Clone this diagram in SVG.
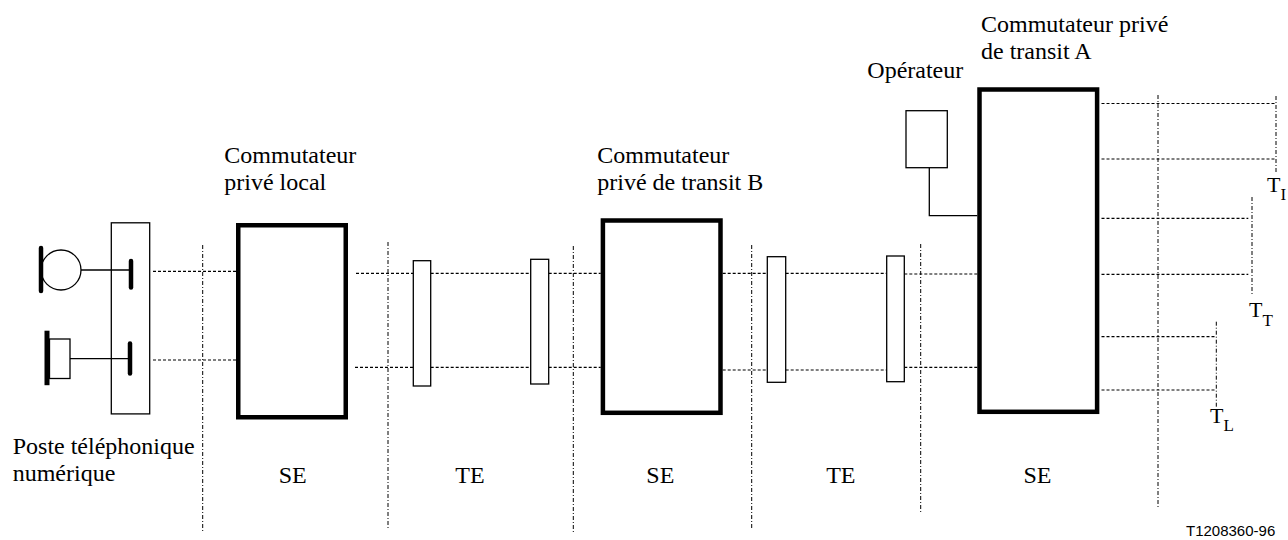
<svg xmlns="http://www.w3.org/2000/svg" width="1288" height="540" viewBox="0 0 1288 540">
<style>
.sw{fill:#fff;stroke:#000;stroke-width:4.5}
.thin{fill:#fff;stroke:#000;stroke-width:1.3}
.ln{fill:none;stroke:#000;stroke-width:1.3}
.dash{fill:none;stroke:#000;stroke-width:1.2;stroke-dasharray:3 2}
.sep{fill:none;stroke:#000;stroke-width:1;stroke-dasharray:4 2 1 2}
.bar{stroke:#000;stroke-width:4.5;stroke-linecap:round}
.t{font-family:"Liberation Serif","Times New Roman",serif;font-size:24px;fill:#000}
.c{text-anchor:middle}
.tt{font-family:"Liberation Serif","Times New Roman",serif;font-size:22px;fill:#000}
.code{font-family:"Liberation Sans",Arial,sans-serif;font-size:15px;fill:#000}
</style>
<rect width="1288" height="540" fill="#fff"/>

<g id="separators">
<line class="sep" x1="202.7" y1="245" x2="202.7" y2="532"/>
<line class="sep" x1="388" y1="242" x2="388" y2="528"/>
<line class="sep" x1="573.3" y1="246" x2="573.3" y2="533"/>
<line class="sep" x1="751.7" y1="245" x2="751.7" y2="528"/>
<line class="sep" x1="920.7" y1="244" x2="920.7" y2="514"/>
<line class="sep" x1="1158" y1="95" x2="1158" y2="508"/>
</g>

<g id="connectors">
<line class="dash" x1="153" y1="271.3" x2="236" y2="271.3"/>
<line class="dash" x1="153" y1="360" x2="236" y2="360"/>
<line class="dash" x1="356" y1="273.3" x2="413.3" y2="273.3"/>
<line class="dash" x1="355" y1="367.3" x2="413.3" y2="367.3"/>
<line class="dash" x1="430.7" y1="273.3" x2="530.7" y2="273.3"/>
<line class="dash" x1="430.7" y1="367.3" x2="530.7" y2="367.3"/>
<line class="dash" x1="548.7" y1="273.3" x2="600.7" y2="273.3"/>
<line class="dash" x1="548.7" y1="367.3" x2="600.7" y2="367.3"/>
<line class="dash" x1="722.7" y1="273.3" x2="767.3" y2="273.3"/>
<line class="dash" x1="722.7" y1="370" x2="767.3" y2="370"/>
<line class="dash" x1="785.7" y1="273.3" x2="886.7" y2="273.3"/>
<line class="dash" x1="785.7" y1="370" x2="886.7" y2="370"/>
<line class="dash" x1="904.3" y1="274" x2="977.3" y2="274"/>
<line class="dash" x1="904.3" y1="367.3" x2="977.3" y2="367.3"/>
<line class="dash" x1="1101.5" y1="103.5" x2="1275.7" y2="103.5"/>
<line class="dash" x1="1101.5" y1="159" x2="1275.7" y2="159"/>
<line class="dash" x1="1101.5" y1="218.3" x2="1248.3" y2="218.3"/>
<line class="dash" x1="1101.5" y1="274.3" x2="1248.3" y2="274.3"/>
<line class="dash" x1="1101.5" y1="336.7" x2="1215" y2="336.7"/>
<line class="dash" x1="1101.5" y1="390" x2="1215" y2="390"/>
<polyline class="ln" points="929.3,167.7 929.3,215.7 977.3,215.7"/>
</g>

<g id="phone">
<rect class="thin" x="111.3" y="222.8" width="38.4" height="191.1"/>
<line class="ln" x1="81" y1="270" x2="131" y2="270"/>
<circle class="thin" cx="61" cy="270" r="20"/>
<line class="bar" x1="41" y1="248" x2="41" y2="291"/>
<line class="bar" x1="131" y1="261" x2="131" y2="287.5"/>
<rect x="44.5" y="330.7" width="5" height="54.5" fill="#000"/>
<rect class="thin" x="49.5" y="339" width="20.5" height="39.5"/>
<line class="ln" x1="70" y1="358.7" x2="130" y2="358.7"/>
<line class="bar" x1="130" y1="343.5" x2="130" y2="373.5"/>
<text class="t" x="12.7" y="454.3">Poste téléphonique</text>
<text class="t" x="12.7" y="481">numérique</text>
</g>

<g id="local-switch">
<rect class="sw" x="238.25" y="225.25" width="107.5" height="192"/>
<text class="t" x="224.3" y="162.5">Commutateur</text>
<text class="t" x="224.3" y="189.5">privé local</text>
<text class="t c" x="292.7" y="483.3">SE</text>
</g>

<g id="te1"><rect class="thin" x="413.3" y="260.7" width="17.4" height="125.3"/></g>
<g id="te2"><rect class="thin" x="530.7" y="259.3" width="18" height="124.7"/></g>
<g id="te-label-1"><text class="t c" x="470" y="483.3">TE</text></g>

<g id="switch-b">
<rect class="sw" x="602.9" y="220.5" width="117.6" height="192.3"/>
<text class="t" x="597.3" y="162.5">Commutateur</text>
<text class="t" x="597.3" y="189.5">privé de transit B</text>
<text class="t c" x="660.3" y="483.3">SE</text>
</g>

<g id="te3"><rect class="thin" x="767.3" y="256.7" width="18.4" height="125.6"/></g>
<g id="te4"><rect class="thin" x="886.7" y="256" width="17.6" height="125.7"/></g>
<g id="te-label-2"><text class="t c" x="840.8" y="483.3">TE</text></g>

<g id="operator">
<rect class="thin" x="906" y="110.7" width="41.3" height="57"/>
<text class="t" x="867.3" y="78">Opérateur</text>
</g>

<g id="switch-a">
<rect class="sw" x="979.5" y="89.5" width="117.6" height="322.3"/>
<text class="t" x="981" y="32">Commutateur privé</text>
<text class="t" x="981" y="59.3">de transit A</text>
<text class="t c" x="1037.5" y="483.3">SE</text>
</g>

<g id="term-i">
<line class="sep" x1="1276" y1="96" x2="1276" y2="172"/>
<text class="tt" x="1267" y="192">T<tspan font-size="17" dy="8">I</tspan></text>
</g>
<g id="term-t">
<line class="sep" x1="1252" y1="197" x2="1252" y2="294"/>
<text class="tt" x="1249" y="316.7">T<tspan font-size="17" dy="9">T</tspan></text>
</g>
<g id="term-l">
<line class="sep" x1="1216.3" y1="321.7" x2="1216.3" y2="406.7"/>
<text class="tt" x="1210" y="423">T<tspan font-size="17" dy="8">L</tspan></text>
</g>

<text class="code" x="1186" y="536">T1208360-96</text>
</svg>
